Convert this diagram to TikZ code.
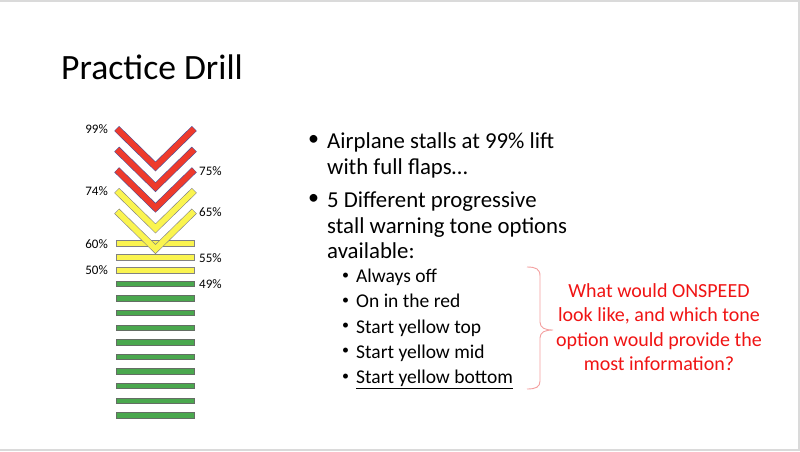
\documentclass[tikz,border=0pt]{standalone}
\usepackage{fontspec}
\setmainfont{Carlito}
\definecolor{chred}{RGB}{238,58,44}
\definecolor{chredline}{RGB}{80,80,150}
\definecolor{chyel}{RGB}{250,244,80}
\definecolor{chyelline}{RGB}{130,130,130}
\definecolor{bargreen}{RGB}{74,168,78}
\definecolor{bargreenline}{RGB}{100,110,100}
\definecolor{bracepink}{RGB}{244,160,160}
\definecolor{txtred}{RGB}{240,20,20}
\definecolor{slideborder}{RGB}{218,218,218}
\tikzset{
  pct/.style={font=\fontsize{13}{15}\selectfont, inner sep=0pt},
  pctl/.style={pct, anchor=east},
  pctr/.style={pct, anchor=west},
  mainline/.style={font=\fontsize{22.8}{26}\selectfont, anchor=base west, inner sep=0pt},
  maindot/.style={font=\fontsize{22}{24}\selectfont, anchor=center, inner sep=0pt},
  subline/.style={font=\fontsize{19.5}{24}\selectfont, anchor=base west, inner sep=0pt},
  subdot/.style={font=\fontsize{14}{16}\selectfont, anchor=center, inner sep=0pt},
  qline/.style={font=\fontsize{20}{24}\selectfont, text=txtred, anchor=base, inner sep=0pt},
  ybar/.style={fill=chyel, draw=chyelline, line width=0.6pt},
  gbar/.style={fill=bargreen, draw=bargreenline, line width=0.6pt},
}
\newcommand{\chev}[3]{% y-offset, fill, outline
  \draw[line width=7pt, #3, line join=miter, line cap=butt] (116.7,128.5+#1) -- (155.5,166.5+#1) -- (194.3,128.5+#1);
  \draw[line width=5.8pt, #2, line join=miter, line cap=butt, shorten <=0.5pt, shorten >=0.5pt] (116.7,128.5+#1) -- (155.5,166.5+#1) -- (194.3,128.5+#1);
}
\begin{document}
\begin{tikzpicture}[x=1pt,y=-1pt]
\useasboundingbox (0,0) rectangle (800,451);
\fill[white] (0,0) rectangle (800,451);
% slide border
\draw[slideborder, line width=2pt] (0,1) -- (799,1) -- (799,450) -- (0,450);

% title
\node[font=\fontsize{35.6}{40}\selectfont, anchor=base west, inner sep=0pt] (title) at (61,79) {Practice Drill};

% yellow bars
\foreach \y in {240.5, 254.5, 267.5} {
  \draw[ybar] (116,\y) rectangle (194,\y+5.5);
}
% green bars
\foreach \i in {0,...,9} {
  \draw[gbar] (116,281+14.6*\i) rectangle (194,281+14.6*\i+5.5);
}

% chevrons
\chev{0}{chred}{chredline}
\chev{20.65}{chred}{chredline}
\chev{41.3}{chred}{chredline}
\chev{61.95}{chyel}{chyelline}
\chev{82.6}{chyel}{chyelline}

% percentage labels
\node[pctl] (p99) at (108,129.5) {99\%};
\node[pctr] (p75) at (199,171.5) {75\%};
\node[pctl] (p74) at (108,191) {74\%};
\node[pctr] (p65) at (199,212) {65\%};
\node[pctl] (p60) at (108,244) {60\%};
\node[pctr] (p55) at (199,258) {55\%};
\node[pctl] (p50) at (108,270) {50\%};
\node[pctr] (p49) at (199,284.5) {49\%};

% main bullets
\node[maindot] (b1) at (313.5,140.5) {•};
\node[mainline] (t1) at (327,148) {Airplane stalls at 99\% lift};
\node[mainline] (t1b) at (327,174) {with full flaps…};
\node[maindot] (b2) at (313.5,199.5) {•};
\node[mainline] (t2) at (327,207) {5 Different progressive};
\node[mainline] (t2b) at (327,233) {stall warning tone options};
\node[mainline] (t2c) at (327,258.5) {available:};

% sub bullets
\foreach \y/\t/\n in {282.5/Always off/s1, 307.7/On in the red/s2, 333/Start yellow top/s3, 358.2/Start yellow mid/s4} {
  \node[subdot] (\n d) at (345.5,\y-6.5) {•};
  \node[subline] (\n) at (356,\y) {\t};
}
\node[subdot] (s5d) at (345.5,376.9) {•};
\node[subline] (s5) at (356,383.4) {\underline{Start yellow bottom}};

% brace
\draw[bracepink, line width=0.9pt] (527,267) .. controls (536,267) and (540,269) .. (540,276) -- (540,322) .. controls (540,328) and (545,330) .. (553,330) .. controls (545,330) and (540,332) .. (540,338) -- (540,381) .. controls (540,387) and (536,389) .. (527,389);

% question
\node[qline] (q1) at (659,297.5) {What would ONSPEED};
\node[qline] (q2) at (659,321.7) {look like, and which tone};
\node[qline] (q3) at (659,346) {option would provide the};
\node[qline] (q4) at (659,370.3) {most information?};
\end{tikzpicture}
\end{document}
